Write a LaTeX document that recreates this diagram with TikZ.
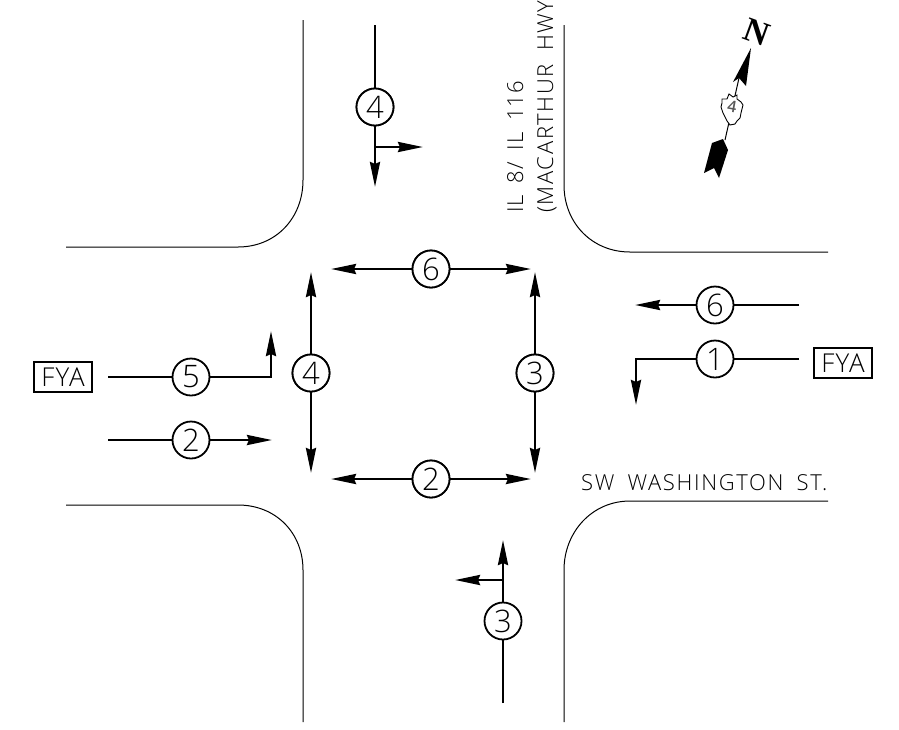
\documentclass[tikz,border=0pt]{standalone}
\usepackage{fontspec}
\setmainfont{Open Sans Light}
\newfontfamily\roadfont[LetterSpace=7.5,WordSpace=1.8]{Open Sans Light}
\newfontfamily\routefont[LetterSpace=4,WordSpace=1.8]{Open Sans Light}
\newfontfamily\fyafont[LetterSpace=5]{Open Sans Light}
\newfontfamily\northfont{Liberation Serif}
\usetikzlibrary{arrows.meta}
\tikzset{
  curb/.style={line width=1pt,black},
  phase/.style={line width=2.7pt,black},
  tip/.style={-{Stealth[length=25pt,width=10pt,inset=2pt]}},
  bothtip/.style={{Stealth[length=25pt,width=10pt,inset=2pt]}-{Stealth[length=25pt,width=10pt,inset=2pt]}},
  num/.style={circle,draw,line width=1.8pt,fill=white,minimum size=37pt,inner sep=0pt,font=\fontsize{31}{31}\selectfont},
  fya/.style={draw,line width=1.8pt,minimum width=58pt,minimum height=30pt,inner sep=0pt,font=\fyafont\fontsize{26}{26}\selectfont},
  road/.style={font=\roadfont\fontsize{22}{22}\selectfont,inner sep=0pt}
}
\begin{document}
\begin{tikzpicture}[x=1pt,y=-1pt]
\useasboundingbox (0,0) rectangle (899,729);
% curbs
\draw[curb] (303,20) -- (303,180) .. controls (303,218) and (276,247) .. (238,247) -- (66,247);
\draw[curb] (564,25) -- (564,185) .. controls (564,223) and (592,252) .. (630,252) -- (828,252);
\draw[curb] (66,505) -- (238,505) .. controls (276,505) and (303,533) .. (303,570) -- (303,722);
\draw[curb] (564,722) -- (564,570) .. controls (564,532) and (592,501) .. (630,501) -- (828,501);
% labels
\node[road,font=\routefont\fontsize{22}{22}\selectfont,anchor=base west,rotate=90] at (523,213) {IL 8/ IL 116};
\node[road,anchor=base west,rotate=90] at (553,213) {(MACARTHUR HWY};
\node[road,anchor=base west] at (581,490) {SW WASHINGTON ST.};
% numbered nodes
\node[num] (top4) at (375,107) {4};
\node[num] (sq6) at (431,269) {6};
\node[num] (sq2) at (431,479) {2};
\node[num] (sq4) at (311,373) {4};
\node[num] (sq3) at (535,373) {3};
\node[num] (l5) at (191,377) {5};
\node[num] (l2) at (191,440) {2};
\node[num] (r6) at (715,305) {6};
\node[num] (r1) at (715,359) {1};
\node[num] (bot3) at (503,621) {3};
\node[fya] (fyaL) at (63,377) {FYA};
\node[fya] (fyaR) at (843,363) {FYA};
% coordinates
\coordinate (t0) at (375,25);
\coordinate (t1) at (375,187);
\coordinate (tb) at (375,147);
\coordinate (tr) at (423,147);
\coordinate (s6a) at (331,269);
\coordinate (s6b) at (531,269);
\coordinate (s2a) at (331,479);
\coordinate (s2b) at (531,479);
\coordinate (s4a) at (311,272);
\coordinate (s4b) at (311,473);
\coordinate (s3a) at (535,272);
\coordinate (s3b) at (535,473);
\coordinate (l5a) at (108,377);
\coordinate (l5b) at (271,377);
\coordinate (l5c) at (271,331);
\coordinate (l2a) at (108,440);
\coordinate (l2b) at (272,440);
\coordinate (r6a) at (799,305);
\coordinate (r6b) at (635,305);
\coordinate (r1a) at (799,359);
\coordinate (r1b) at (636,359);
\coordinate (r1c) at (636,405);
\coordinate (b0) at (503,703);
\coordinate (b1) at (503,540);
\coordinate (bb) at (503,580);
\coordinate (bl) at (455,580);
% connectors
\draw[phase] (t0) -- (top4);
\draw[phase,tip] (top4) -- (t1);
\draw[phase,tip] (tb) -- (tr);
\draw[phase,bothtip] (s6a) -- (s6b);
\draw[phase,bothtip] (s2a) -- (s2b);
\draw[phase,bothtip] (s4a) -- (s4b);
\draw[phase,bothtip] (s3a) -- (s3b);
\draw[phase] (l5a) -- (l5);
\draw[phase,tip] (l5) -- (l5b) -- (l5c);
\draw[phase] (l2a) -- (l2);
\draw[phase,tip] (l2) -- (l2b);
\draw[phase] (r6a) -- (r6);
\draw[phase,tip] (r6) -- (r6b);
\draw[phase] (r1a) -- (r1);
\draw[phase,tip] (r1) -- (r1b) -- (r1c);
\draw[phase] (b0) -- (bot3);
\draw[phase,tip] (bot3) -- (b1);
\draw[phase,tip] (bb) -- (bl);
\node[num] at (top4) {4};\node[num] at (sq6) {6};\node[num] at (sq2) {2};\node[num] at (sq4) {4};\node[num] at (sq3) {3};
% north arrow
\draw[line width=1pt] (739,78) -- (725,140);
\fill (751,48) -- (733,82) -- (739,78) -- (746,86) -- cycle;
\fill (723,139) -- (728,150) -- (719,178) -- (714,168) -- (704,173) -- (712,143) -- cycle;
\draw[line width=0.9pt,fill=white] (729,94) -- (733,97) -- (737,95) -- (737,99) -- (741,102) -- (743,105) -- (742,109) -- (741,113) -- (740,118) -- (737,121) -- (735,124) -- (730,125) -- (727,121) -- (725,117) -- (723,113) -- (721,107) -- (722,103) -- (722,99) -- (727,99) -- cycle;
\node[font=\fontsize{16}{16}\bfseries\selectfont,text=black!65,rotate=-10,inner sep=0pt] (ilfour) at (732,107) {4};
\node[font=\northfont\bfseries\fontsize{34}{34}\selectfont,rotate=-20,inner sep=0pt] (north) at (757,32) {N};
\end{tikzpicture}
\end{document}
